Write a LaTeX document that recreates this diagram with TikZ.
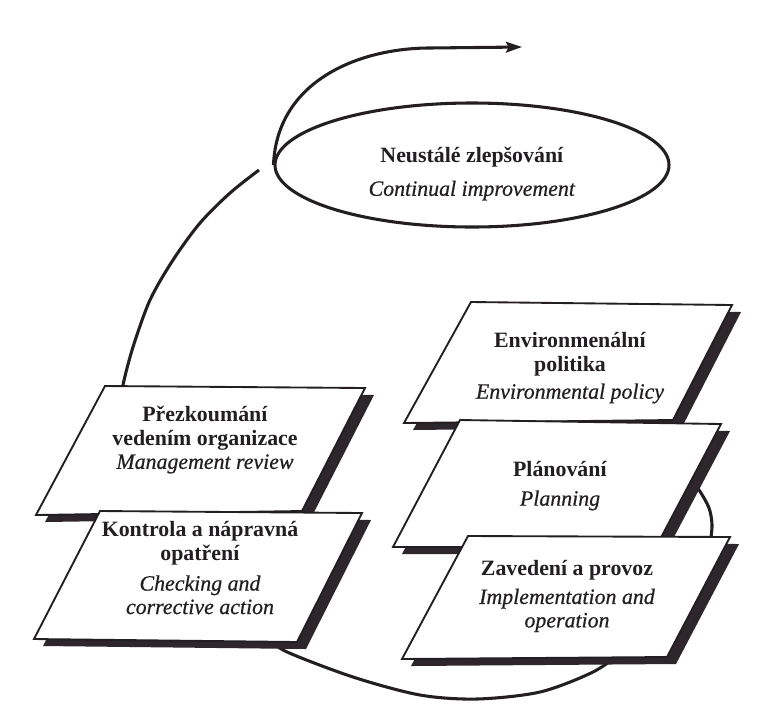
\documentclass[tikz,border=0pt]{standalone}
\usepackage{fontspec}
\setmainfont{Liberation Serif}[ItalicFeatures={FakeBold=0.6}]
\usetikzlibrary{arrows.meta,shapes.geometric}
\definecolor{ink}{RGB}{35,30,33}
\definecolor{shadowc}{RGB}{45,38,42}
\newcommand{\pbox}[4]{%
  \fill[fill=shadowc, shift={(9,7)}] #1 -- #2 -- #3 -- #4 -- cycle;
  \draw[boxline] #1 -- #2 -- #3 -- #4 -- cycle;}
\begin{document}
\begin{tikzpicture}[x=0.75pt,y=-0.75pt,
  loopline/.style={line width=2.3pt, draw=ink},
  boxline/.style={line width=1.4pt, draw=ink, fill=white, line join=miter},
  lbl/.style={align=center, text=ink, inner sep=0pt,
    font=\fontsize{16.4}{17.6}\selectfont},
]
\useasboundingbox (0,0) rectangle (762,711);
\fill[white] (0,0) rectangle (762,711);

% loop segments (partly hidden behind the boxes)
\draw[loopline] plot[smooth] coordinates {(688,478) (699,490) (709,508) (712,525) (710,545)};
\draw[loopline] plot[smooth] coordinates {(625,650) (593,672) (540,692) (477,699) (420,695) (353,677) (285,651) (265,635)};
\draw[loopline] plot[smooth] coordinates {(120,410) (123,385) (133,347) (150,300) (173,260) (200,223) (230,193) (259,170)};

% continual improvement ellipse and arrow
\node[draw=ink, line width=2.3pt, ellipse, minimum width=295.5pt, minimum height=93pt, inner sep=0pt] (imprv) at (472,165) {};
\coordinate (arrowend) at (522,47);
\draw[loopline, -{Stealth[length=12pt, width=8pt, inset=2pt]}] (imprv.west) .. controls (277,80) and (360,48) .. (430,48) -- (arrowend);
\node[lbl] (imprvtext) at (472,174) {\textbf{Neustálé zlepšování}\\[7pt]\textit{Continual improvement}};

% left boxes
\pbox{(105,386)}{(365,388)}{(302,511)}{(36,515)}
\node[lbl] (rev) at (205,440) {\textbf{Přezkoumání}\\\textbf{vedením organizace}\\\textit{Management review}};
\pbox{(100,511)}{(362,513)}{(297,642)}{(34,639)}
\node[lbl] (chk) at (200,568) {\textbf{Kontrola a nápravná}\\\textbf{opatření}\\[5pt]\textit{Checking and}\\\textit{corrective action}};

% right boxes
\pbox{(471,302)}{(732,305)}{(673,420)}{(404,423)}
\node[lbl] (pol) at (570,368) {\textbf{Environmenální}\\\textbf{politika}\\[3pt]\textit{Environmental policy}};
\pbox{(460,420)}{(721,424)}{(656,547)}{(393,547)}
\node[lbl] (pln) at (560,486) {\textbf{Plánování}\\[4pt]\textit{Planning}};
\pbox{(468,536)}{(730,537)}{(667,657)}{(402,659)}
\node[lbl] (imp) at (567,596) {\textbf{Zavedení a provoz}\\[4pt]\textit{Implementation and}\\\textit{operation}};
\end{tikzpicture}
\end{document}
